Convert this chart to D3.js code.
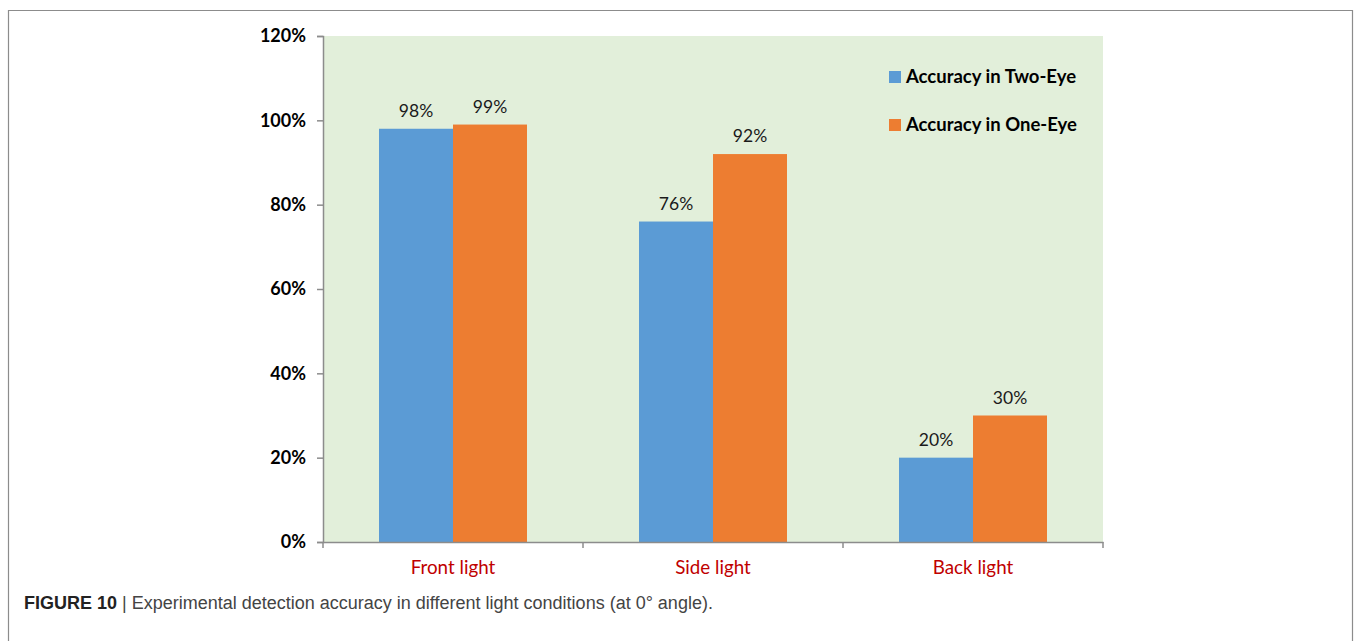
<!DOCTYPE html>
<html>
<head>
<meta charset="utf-8">
<script src="https://cdn.jsdelivr.net/npm/d3@7"></script>
<style>
  html, body { margin: 0; padding: 0; background: #fff; }
  svg { display: block; }
</style>
</head>
<body>
<svg id="chart" width="1359" height="641"></svg>
<script>
// Detection accuracy per lighting condition
const categories = ["Front light", "Side light", "Back light"];
const seriesNames = ["Accuracy in Two-Eye", "Accuracy in One-Eye"];
const twoEye = [98, 76, 20];
const oneEye = [99, 92, 30];
const yTicks = [0, 20, 40, 60, 80, 100, 120];
const seriesColors = ["#5B9BD5", "#ED7D31"];

const svg = d3.select("#chart");
const W = 1359, H = 641;
const font = "Lato, 'Open Sans', sans-serif";

// outer frame
svg.append("path")
  .attr("d", `M8.5,${H} V10.5 H1352.5 V${H}`)
  .attr("fill", "none").attr("stroke", "#8c8c8c").attr("stroke-width", 1.2);

const plot = { left: 323, right: 1103, top: 36, bottom: 542 };

const x = d3.scaleBand().domain(categories).range([plot.left, plot.right]).paddingInner(0).paddingOuter(0);
const y = d3.scaleLinear().domain([0, 120]).range([plot.bottom, plot.top]);

// plot background
svg.append("rect")
  .attr("x", plot.left).attr("y", y(120))
  .attr("width", plot.right - plot.left).attr("height", y(0) - y(120))
  .attr("fill", "#E2EFDA");

const groupFrac = 148 / 260;
const sub = d3.scaleBand().domain([0, 1])
  .range([0, x.bandwidth() * groupFrac]);
const groupOffset = (x.bandwidth() * (1 - groupFrac)) / 2;

const rows = categories.map((c, i) => ({ c, vals: [twoEye[i], oneEye[i]] }));

const g = svg.append("g");
rows.forEach(r => {
  r.vals.forEach((v, s) => {
    const bx = x(r.c) + groupOffset + sub(s);
    g.append("rect")
      .attr("x", bx).attr("y", y(v))
      .attr("width", sub.bandwidth()).attr("height", y(0) - y(v))
      .attr("fill", seriesColors[s]);
    g.append("text")
      .attr("x", bx + sub.bandwidth() / 2).attr("y", y(v) - 12)
      .attr("text-anchor", "middle")
      .attr("font-family", font)
      .attr("font-size", 17.5).attr("fill", "#1a1a1a")
      .text(v + "%");
  });
});

// y axis
const yAxis = d3.axisLeft(y).tickValues(yTicks).tickSize(6).tickFormat(d => d + "%");
const ya = svg.append("g").attr("transform", `translate(${plot.left},0)`).call(yAxis);
ya.select(".domain").attr("stroke", "#8c8c8c").attr("stroke-width", 1.5);
ya.selectAll(".tick line").attr("stroke", "#8c8c8c").attr("stroke-width", 1.5);
ya.selectAll(".tick text")
  .attr("x", -17)
  .attr("font-family", font)
  .attr("font-weight", "bold").attr("font-size", 18).attr("fill", "#000");

// x axis
const xAxis = d3.axisBottom(x).tickSize(0).tickFormat(d => d);
const xa = svg.append("g").attr("transform", `translate(0,${plot.bottom})`).call(xAxis);
xa.select(".domain").attr("stroke", "#8c8c8c").attr("stroke-width", 1.5);
xa.selectAll(".tick text")
  .attr("y", 19)
  .attr("font-family", font)
  .attr("font-size", 18.8).attr("fill", "#C00000");
// category boundary tick marks
const bounds = categories.map(c => x(c)).concat([plot.right]);
xa.selectAll(".bound").data(bounds).join("line")
  .attr("class", "bound")
  .attr("x1", d => d).attr("x2", d => d)
  .attr("y1", 0).attr("y2", 6)
  .attr("stroke", "#8c8c8c").attr("stroke-width", 1.5);

// legend
const lg = svg.append("g");
seriesNames.forEach((name, i) => {
  const ly = 77 + i * 48;
  lg.append("rect")
    .attr("x", 889).attr("y", ly - 6).attr("width", 12).attr("height", 12)
    .attr("fill", seriesColors[i]);
  lg.append("text")
    .attr("x", 906).attr("y", ly + 6)
    .attr("font-family", font)
    .attr("font-weight", "bold").attr("font-size", 18.5).attr("fill", "#000")
    .text(name);
});

// caption
const cap = svg.append("text")
  .attr("x", 24).attr("y", 609)
  .attr("font-family", "'Liberation Sans', Arial, sans-serif")
  .attr("font-size", 18).attr("fill", "#333");
cap.append("tspan").attr("font-weight", "bold").attr("fill", "#222").text("FIGURE 10");
cap.append("tspan").attr("fill", "#444").text(" | Experimental detection accuracy in different light conditions (at 0° angle).");
</script>
</body>
</html>
